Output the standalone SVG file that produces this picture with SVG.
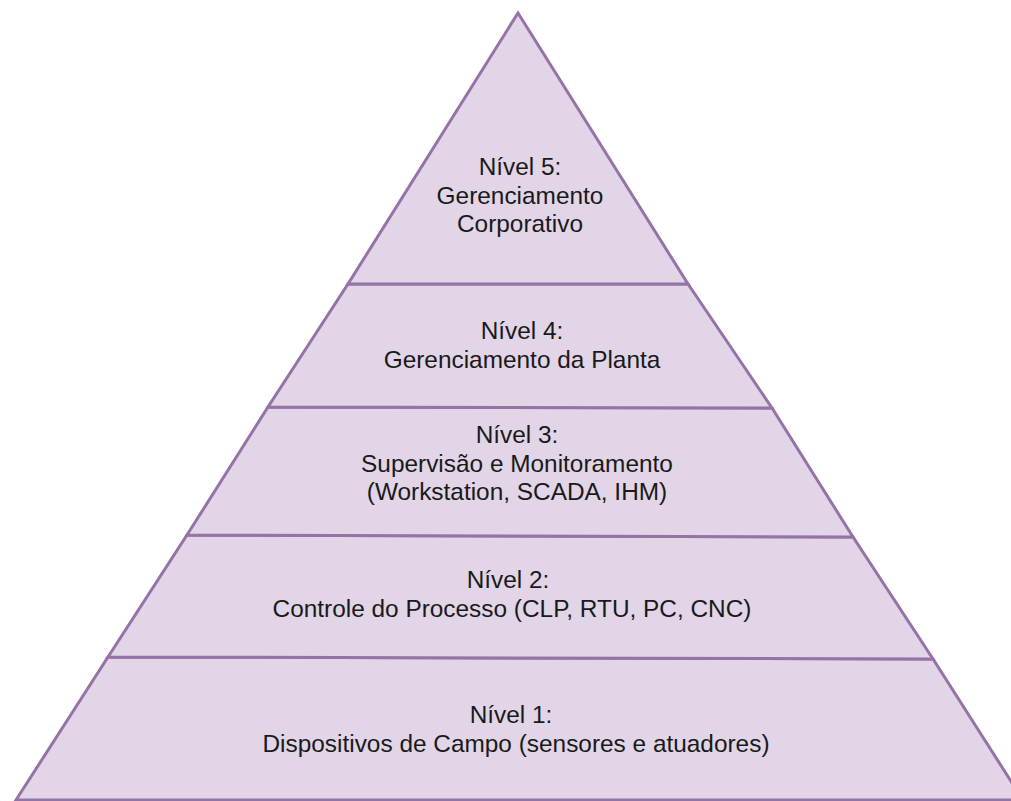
<svg xmlns="http://www.w3.org/2000/svg" width="1011" height="801" viewBox="0 0 1011 801">
<style>
.layer{fill:#e1d5e7;stroke:#9673a6;stroke-width:3;stroke-linejoin:miter}
.t{font-family:"Liberation Sans",Arial,sans-serif;font-size:24.4px;fill:#1a1a1a;text-anchor:middle}
</style>
<rect width="1011" height="801" fill="#ffffff"/>
<g id="nivel1">
<polygon class="layer" points="108,657 933,659 1023,800 16,800"/>
<text class="t" x="511" y="723">Nível 1:</text>
<text class="t" x="516" y="752">Dispositivos de Campo (sensores e atuadores)</text>
</g>
<g id="nivel2">
<polygon class="layer" points="187,535 853,537 933,659 108,657"/>
<text class="t" x="508" y="588">Nível 2:</text>
<text class="t" x="512" y="617">Controle do Processo (CLP, RTU, PC, CNC)</text>
</g>
<g id="nivel3">
<polygon class="layer" points="268,407 772,408 853,537 187,535"/>
<text class="t" x="517" y="443">Nível 3:</text>
<text class="t" x="517" y="472">Supervisão e Monitoramento</text>
<text class="t" x="517" y="500">(Workstation, SCADA, IHM)</text>
</g>
<g id="nivel4">
<polygon class="layer" points="348,284 688,284 772,408 268,407"/>
<text class="t" x="522" y="339">Nível 4:</text>
<text class="t" x="522" y="368">Gerenciamento da Planta</text>
</g>
<g id="nivel5">
<polygon class="layer" points="518,13 688,284 348,284"/>
<text class="t" x="520" y="175">Nível 5:</text>
<text class="t" x="520" y="204">Gerenciamento</text>
<text class="t" x="520" y="232">Corporativo</text>
</g>
</svg>
